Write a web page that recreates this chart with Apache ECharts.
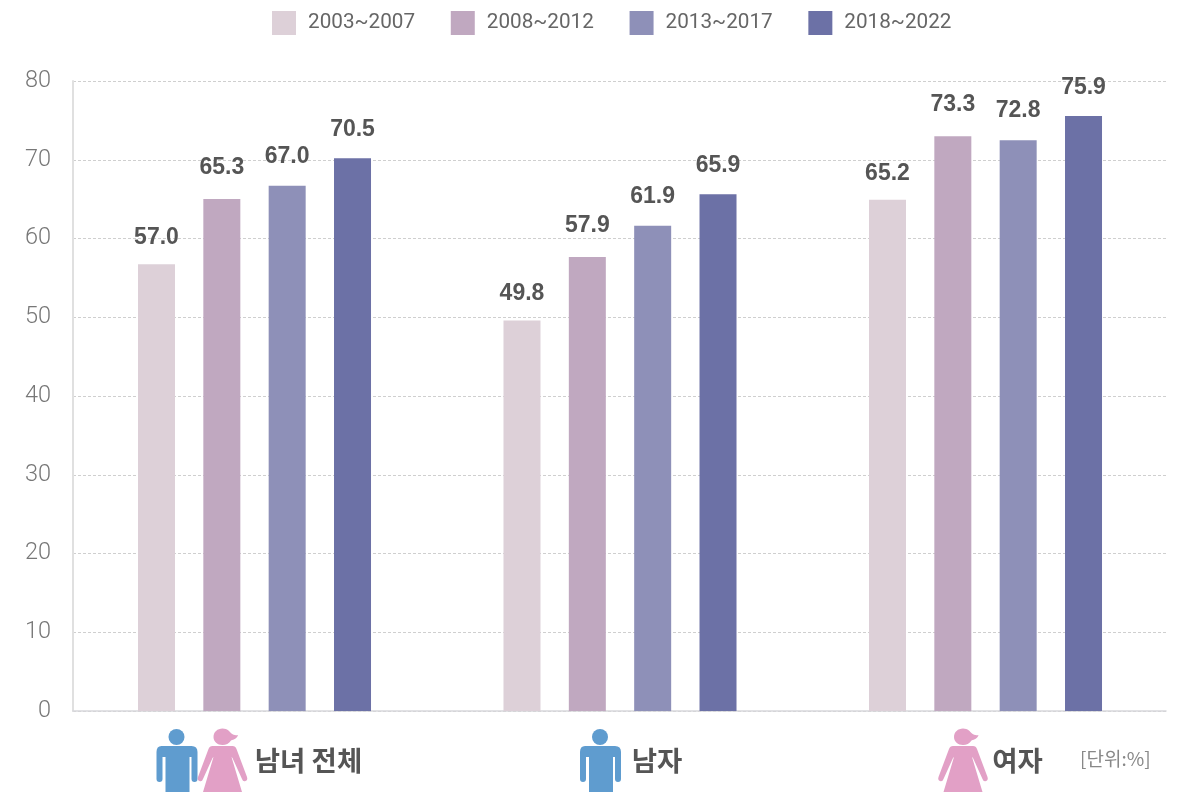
<!DOCTYPE html>
<html>
<head>
<meta charset="utf-8">
<style>html,body{margin:0;padding:0;background:#fff}#c{width:1182px;height:792px}</style>
<script src="https://cdn.jsdelivr.net/npm/echarts@6/dist/echarts.min.js"></script>
</head>
<body>
<div id="c"></div>
<script>
const categories = ['남녀 전체', '남자', '여자'];
const periods = ['2003~2007', '2008~2012', '2013~2017', '2018~2022'];
const values2003 = [57.0, 49.8, 65.2];
const values2008 = [65.3, 57.9, 73.3];
const values2013 = [67.0, 61.9, 72.8];
const values2018 = [70.5, 65.9, 75.9];
const seriesValues = [values2003, values2008, values2013, values2018];
const colors = ['#ddd0d8', '#c0a8c0', '#8e90b8', '#6c71a6'];
const labelDistance = [15, 20, 18, 17];
const unitLabel = '[단위:%]';

const manBody = 'M-15 0H15Q21 0 21 6V33Q21 36 18 36Q15 36 15 33V11H13V46H-11V11H-14V33Q-14 36 -17 36Q-20 36 -20 33V6Q-20 0 -15 0Z';
const womanBody = 'M-10 0H10Q13 0 14 3L24.5 31Q25.5 34 23 35Q20.5 36 19.5 33L10 12L9 11L19.5 46H-19.5L-9 11L-10 12L-19.5 33Q-20.5 36 -23 35Q-25.5 34 -24.5 31L-14 3Q-13 0 -10 0Z';
const womanHead = 'M-9 -9C-9 -14 -5 -17.5 0 -17.5C5 -17.5 7 -14.5 9 -12.5C11 -10.8 13 -10.5 15.5 -11C14.5 -7.5 11.5 -6.5 8.5 -5.5C6.5 -2.5 3.5 -1 0 -1C-5 -1 -9 -4.5 -9 -9Z';
const blue = '#5f9ccf', pink = '#e2a0c6';

echarts.graphic.registerShape('manBody', echarts.graphic.extendPath(manBody));
echarts.graphic.registerShape('womanBody', echarts.graphic.extendPath(womanBody));
echarts.graphic.registerShape('womanHead', echarts.graphic.extendPath(womanHead));

function man(x) {
  return [
    {type:'manBody', x, y:746, silent:true, style:{fill:blue}},
    {type:'circle', silent:true, shape:{cx:x, cy:737, r:8}, style:{fill:blue}}
  ];
}
function woman(x) {
  return [
    {type:'womanBody', x, y:746, silent:true, style:{fill:pink}},
    {type:'womanHead', x, y:746, silent:true, style:{fill:pink}}
  ];
}

const chart = echarts.init(document.getElementById('c'), null, {renderer:'canvas'});
const catFont = {fontFamily:'Noto Sans CJK KR', fontWeight:'bold', fontSize:27.5, color:'#555'};
const catRich = {
  g0:{padding:[0,0,0,108], ...catFont},
  g1:{padding:[0,0,0,74], ...catFont},
  g2:{padding:[0,0,0,64], ...catFont}
};
chart.setOption({
  animation:false,
  backgroundColor:'#fff',
  legend:{
    top:6, left:267, itemWidth:24, itemHeight:24, itemGap:35.7,
    icon:'rect',
    data:periods,
    textStyle:{fontFamily:'Roboto', fontSize:20.7, color:'#666', padding:[0,0,0,7]}
  },
  grid:[
    {left:73, right:16, top:81, height:630, containLabel:false},
    {left:71.75, width:1096.5, top:81, height:630, containLabel:false}
  ],
  xAxis:[
    {type:'category', gridIndex:0, data:categories, axisTick:{show:false},
     axisLine:{lineStyle:{color:'#d8d8dc', width:1.5}},
     axisLabel:{show:false}},
    {type:'category', gridIndex:1, data:categories, axisTick:{show:false},
     axisLine:{show:false},
     axisLabel:{
       interval:0, margin:36,
       formatter:(v,i)=>`{g${i}|${v}}`, rich:catRich
     }}
  ],
  yAxis:[
    {type:'value', gridIndex:0, min:0, max:80, interval:10,
     axisLine:{show:true, lineStyle:{color:'#e0e0e0', width:2}},
     axisTick:{show:false},
     splitLine:{lineStyle:{color:'#cfcfcf', type:[3,2], width:1}},
     axisLabel:{margin:22, fontFamily:'Roboto', fontWeight:300, fontSize:23.5, color:'#777'}},
    {type:'value', gridIndex:1, min:0, max:80.36, show:false, splitLine:{show:false}}
  ],
  series:periods.map((name,i)=>({
    name, type:'bar', xAxisIndex:1, yAxisIndex:1,
    data:seriesValues[i],
    barWidth:37, barGap:'76.6%',
    itemStyle:{color:colors[i]},
    label:{show:true, position:'top', distance:labelDistance[i],
      formatter:p=>p.value.toFixed(1),
      fontFamily:'Liberation Sans', fontWeight:'bold', fontSize:23, color:'#555'}
  })),
  graphic:[
    ...man(176.5), ...woman(222.5), ...man(600), ...woman(963),
    {type:'text', x:1080, y:749, silent:true,
     style:{text:unitLabel, fontFamily:'Noto Sans CJK KR', fontSize:19, fill:'#888'}}
  ]
});
</script>
</body>
</html>
